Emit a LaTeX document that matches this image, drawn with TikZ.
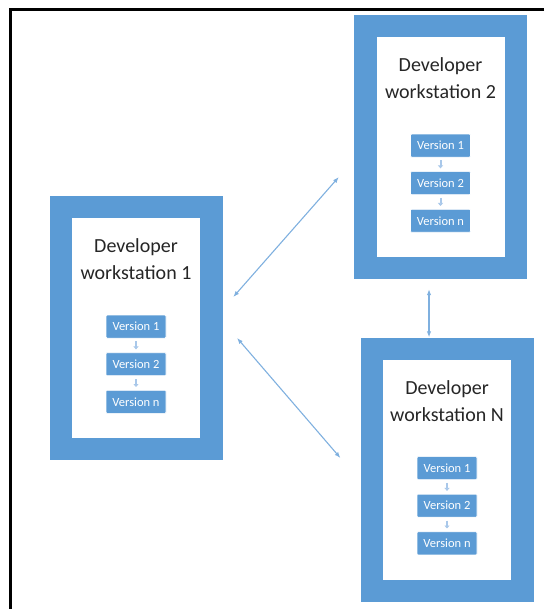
\documentclass[tikz,border=0pt]{standalone}
\usepackage{fontspec}
\setmainfont{Carlito}
\usetikzlibrary{positioning, arrows.meta}

\definecolor{officeblue}{HTML}{5B9BD5}
\definecolor{linkblue}{HTML}{7FB0DF}
\definecolor{stepblue}{HTML}{A9C8EA}
\definecolor{titlegray}{HTML}{262626}

\begin{document}
\begin{tikzpicture}[
    x=1pt, y=-1pt,
    node distance=14pt,
    station/.style={
        fill=officeblue,
        inner sep=0pt,
        minimum width=173pt,
        minimum height=264pt
    },
    pane/.style={
        fill=white,
        inner sep=0pt,
        minimum width=128pt,
        minimum height=220pt
    },
    title/.style={
        align=center,
        inner sep=0pt,
        text=titlegray,
        font=\fontsize{20}{27}\selectfont
    },
    version/.style={
        fill=officeblue,
        draw=white,
        line width=0.6pt,
        rounded corners=1pt,
        inner sep=0pt,
        text=white,
        font=\fontsize{12.5}{14}\selectfont,
        minimum width=60pt,
        minimum height=23pt
    },
    stepline/.style={
        -{Triangle[length=3pt,width=5pt]},
        stepblue,
        line width=2pt,
        shorten <=3pt,
        shorten >=3pt
    },
    link/.style={
        {Latex[length=6pt,width=4.5pt]}-{Latex[length=6pt,width=4.5pt]},
        linkblue,
        line width=1.1pt
    }
]

\useasboundingbox (0,0) rectangle (546,609);

% frame
\draw[line width=2.5pt] (544,9.5) -- (10.5,9.5) -- (10.5,609);

% workstations
\foreach \id/\x/\y in {1/136/328, 2/440.5/147, N/447/469.5} {
    \node[station] (ws\id) at (\x,\y) {};
    \node[pane] (in\id) at (ws\id) {};
    \node[title, below=21pt of in\id.north] (t\id)
        {Developer\\workstation \id};
    \node[version, below=97pt of in\id.north] (v\id-1) {Version 1};
    \node[version, below=of v\id-1] (v\id-2) {Version 2};
    \node[version, below=of v\id-2] (v\id-3) {Version n};
    \draw[stepline] (v\id-1) -- (v\id-2);
    \draw[stepline] (v\id-2) -- (v\id-3);
}

\draw[link, shorten <=16pt, shorten >=22.7pt]
    ([yshift=19pt]ws1.east) -- ([yshift=-13pt]ws2.west);
\draw[link, shorten <=22pt, shorten >=30.5pt]
    ([yshift=6.7pt]ws1.east) -- ([yshift=-11.6pt]wsN.west);
\draw[link, shorten <=10pt]
    ([xshift=-11.5pt]ws2.south) -- ([xshift=-18pt]wsN.north);

\end{tikzpicture}
\end{document}
